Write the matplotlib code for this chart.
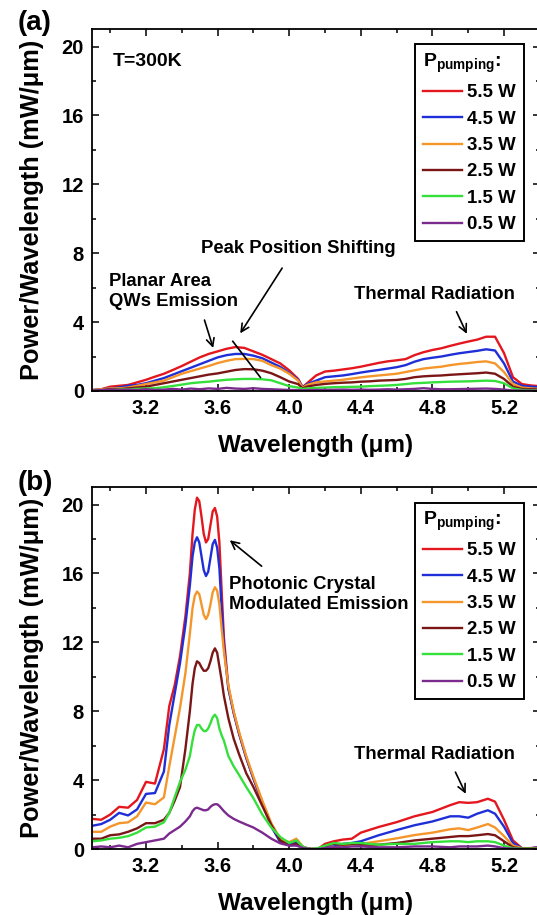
import matplotlib
matplotlib.use('Agg')
import matplotlib.pyplot as plt
from matplotlib.ticker import MultipleLocator

plt.rcParams['font.family'] = ['Liberation Sans', 'DejaVu Sans']
plt.rcParams['font.weight'] = 'bold'
plt.rcParams['mathtext.fontset'] = 'custom'
plt.rcParams['mathtext.rm'] = 'Liberation Sans:bold'
plt.rcParams['mathtext.bf'] = 'Liberation Sans:bold'
plt.rcParams['mathtext.it'] = 'Liberation Sans:bold'
plt.rcParams['mathtext.default'] = 'bf'

# ---- data ----
labels = ['5.5 W', '4.5 W', '3.5 W', '2.5 W', '1.5 W', '0.5 W']
colors = ['#e3171d', '#1f2fd8', '#f5962a', '#7a1616', '#36e03c', '#7b2a8e']

# panel (a): unpatterned area, T=300K
wl_a = [2.90, 2.95, 3.00, 3.05, 3.10, 3.15, 3.20, 3.25, 3.30, 3.35, 3.40, 3.45, 3.50,
        3.55, 3.60, 3.65, 3.70, 3.75, 3.80, 3.85, 3.90, 3.95, 4.00, 4.05, 4.075, 4.10,
        4.15, 4.20, 4.25, 4.30, 4.35, 4.40, 4.45, 4.50, 4.55, 4.60, 4.65, 4.70, 4.75,
        4.80, 4.85, 4.90, 4.95, 5.00, 5.05, 5.10, 5.15, 5.20, 5.25, 5.30, 5.35, 5.40]
red_a = [0.05, 0.1, 0.25, 0.3, 0.35, 0.5, 0.65, 0.83, 1.0, 1.22, 1.45, 1.7, 1.95,
         2.15, 2.3, 2.45, 2.55, 2.5, 2.3, 2.1, 1.85, 1.6, 1.2, 0.7, 0.22, 0.45,
         0.9, 1.13, 1.18, 1.25, 1.32, 1.41, 1.52, 1.63, 1.72, 1.78, 1.85, 2.08, 2.25,
         2.38, 2.48, 2.62, 2.75, 2.87, 2.98, 3.15, 3.15, 2.2, 0.8, 0.4, 0.32, 0.28]
blue_a = [0.05, 0.1, 0.15, 0.2, 0.3, 0.35, 0.45, 0.6, 0.75, 0.95, 1.15, 1.35, 1.55,
          1.75, 1.95, 2.08, 2.15, 2.15, 2.05, 1.9, 1.65, 1.4, 1.05, 0.65, 0.2, 0.4,
          0.6, 0.8, 0.85, 0.9, 0.98, 1.07, 1.15, 1.22, 1.3, 1.38, 1.5, 1.7, 1.85,
          1.93, 2.0, 2.1, 2.19, 2.26, 2.33, 2.42, 2.35, 1.6, 0.55, 0.3, 0.25, 0.22]
orange_a = [0.05, 0.1, 0.15, 0.15, 0.2, 0.3, 0.4, 0.5, 0.6, 0.8, 1.0, 1.15, 1.3,
            1.45, 1.62, 1.75, 1.85, 1.86, 1.85, 1.75, 1.5, 1.3, 1.0, 0.6, 0.18, 0.35,
            0.5, 0.55, 0.6, 0.65, 0.72, 0.79, 0.85, 0.9, 0.95, 1.0, 1.1, 1.2, 1.3,
            1.36, 1.41, 1.5, 1.57, 1.62, 1.68, 1.72, 1.6, 1.1, 0.4, 0.2, 0.15, 0.12]
brown_a = [0.03, 0.05, 0.1, 0.1, 0.15, 0.2, 0.25, 0.35, 0.45, 0.55, 0.65, 0.75, 0.85,
           0.95, 1.02, 1.12, 1.22, 1.27, 1.26, 1.18, 1.03, 0.8, 0.55, 0.4, 0.15, 0.25,
           0.35, 0.41, 0.45, 0.48, 0.5, 0.54, 0.56, 0.6, 0.62, 0.64, 0.7, 0.8, 0.85,
           0.88, 0.9, 0.94, 0.97, 1.0, 1.03, 1.07, 1.0, 0.7, 0.25, 0.12, 0.1, 0.08]
green_a = [0.02, 0.03, 0.05, 0.08, 0.1, 0.12, 0.15, 0.16, 0.22, 0.29, 0.37, 0.45, 0.5,
           0.54, 0.6, 0.65, 0.68, 0.7, 0.7, 0.68, 0.62, 0.45, 0.28, 0.2, 0.12, 0.15,
           0.18, 0.2, 0.22, 0.23, 0.24, 0.25, 0.28, 0.3, 0.32, 0.35, 0.4, 0.45, 0.47,
           0.5, 0.52, 0.54, 0.55, 0.56, 0.58, 0.6, 0.58, 0.45, 0.15, 0.06, 0.05, 0.04]
purple_a = [0.02, 0.05, 0.08, 0.05, 0.08, 0.05, 0.1, 0.06, 0.08, 0.12, 0.08, 0.14, 0.1,
            0.15, 0.12, 0.18, 0.14, 0.12, 0.16, 0.12, 0.1, 0.08, 0.06, 0.05, 0.04, 0.05,
            0.06, 0.06, 0.07, 0.08, 0.07, 0.08, 0.07, 0.08, 0.1, 0.08, 0.1, 0.12, 0.16,
            0.12, 0.1, 0.1, 0.11, 0.12, 0.13, 0.14, 0.12, 0.08, 0.03, 0.02, 0.02, 0.02]

# panel (b): photonic crystal area
wl_b = [2.90, 2.95, 3.00, 3.05, 3.10, 3.15, 3.20, 3.25, 3.30, 3.33, 3.36, 3.39, 3.42,
        3.445, 3.46, 3.4725, 3.485, 3.4975, 3.51, 3.5225, 3.535, 3.5475, 3.56, 3.5725,
        3.585, 3.5975, 3.61, 3.6225, 3.635, 3.66, 3.69, 3.72,
        3.76, 3.80, 3.85, 3.90, 3.95, 4.00, 4.04, 4.08, 4.12, 4.16, 4.20, 4.25, 4.30,
        4.35, 4.40, 4.50, 4.60, 4.70, 4.80, 4.90, 4.95, 5.00, 5.05, 5.11, 5.15, 5.20,
        5.25, 5.30, 5.35, 5.40]
red_b = [1.75, 1.70, 2.00, 2.45, 2.40, 2.85, 3.90, 3.80, 5.80, 8.30, 9.50, 11.2, 13.5,
         16.0, 18.3, 19.7, 20.4, 20.2, 19.3, 18.3, 17.8, 18.0, 18.8, 19.6,
         19.8, 19.3, 17.8, 15.0, 12.3, 9.4, 7.9, 6.7,
         5.3, 4.1, 2.7, 1.4, 0.5, 0.3, 0.45, 0.1, 0.0, 0.0, 0.3, 0.45, 0.55,
         0.6, 0.95, 1.28, 1.56, 1.9, 2.15, 2.55, 2.72, 2.68, 2.72, 2.92, 2.75, 1.7,
         0.5, 0.05, 0.05, 0.12]
blue_b = [1.35, 1.45, 1.70, 2.10, 1.95, 2.30, 3.20, 3.25, 4.50, 7.20, 9.00, 10.8, 13.0,
          15.3, 17.0, 17.8, 18.1, 17.8, 17.0, 16.2, 15.85, 16.1, 16.9, 17.7,
          17.95, 17.5, 16.3, 14.0, 11.8, 9.3, 7.9, 6.7,
          5.3, 4.1, 2.7, 1.3, 0.4, 0.25, 0.35, 0.1, 0.0, 0.0, 0.1, 0.15, 0.3,
          0.35, 0.45, 0.8, 1.1, 1.38, 1.6, 1.9, 1.9, 1.82, 2.05, 2.25, 2.05, 1.3,
          0.35, 0.05, 0.05, 0.1]
orange_b = [1.0, 1.0, 1.3, 1.5, 1.55, 1.9, 2.7, 2.6, 3.0, 4.8, 6.5, 8.2, 10.2,
            12.5, 14.0, 14.7, 14.95, 14.8, 14.2, 13.6, 13.35, 13.6, 14.2, 14.9,
            15.2, 15.0, 14.2, 12.8, 11.5, 9.5, 8.0, 6.8,
            5.4, 4.2, 2.8, 1.5, 0.6, 0.4, 0.6, 0.1, 0.0, 0.0, 0.05, 0.1, 0.15,
            0.25, 0.3, 0.45, 0.62, 0.81, 0.95, 1.15, 1.2, 1.1, 1.25, 1.45, 1.25, 0.75,
            0.2, 0.05, 0.05, 0.05]
brown_b = [0.6, 0.6, 0.8, 0.85, 1.0, 1.2, 1.5, 1.5, 1.7, 2.1, 2.8, 3.6, 5.8,
           8.0, 9.6, 10.5, 10.9, 10.8, 10.55, 10.35, 10.35, 10.5, 10.9, 11.4,
           11.65, 11.4, 10.6, 9.8, 8.9, 7.6, 6.4, 5.5,
           4.4, 3.6, 2.5, 1.4, 0.5, 0.2, 0.3, 0.05, 0.0, 0.0, 0.2, 0.3, 0.25,
           0.3, 0.25, 0.25, 0.35, 0.5, 0.6, 0.7, 0.75, 0.75, 0.8, 0.87, 0.8, 0.45,
           0.1, 0.02, 0.02, 0.02]
green_b = [0.45, 0.5, 0.6, 0.65, 0.75, 0.95, 1.25, 1.3, 1.55, 2.1, 3.0, 3.9, 4.6,
           5.4, 6.3, 6.9, 7.2, 7.2, 7.0, 6.85, 6.85, 7.0, 7.3, 7.65,
           7.8, 7.6, 7.0, 6.6, 6.3, 5.4, 4.8, 4.3,
           3.6, 2.95, 2.0, 1.25, 0.7, 0.35, 0.5, 0.1, 0.0, 0.05, 0.2, 0.35, 0.3,
           0.35, 0.35, 0.25, 0.3, 0.3, 0.4, 0.45, 0.45, 0.4, 0.45, 0.45, 0.4, 0.2,
           0.05, 0.02, 0.02, 0.02]
purple_b = [0.1, 0.15, 0.1, 0.2, 0.1, 0.3, 0.4, 0.5, 0.6, 0.9, 1.1, 1.3, 1.6,
            1.9, 2.2, 2.35, 2.4, 2.35, 2.3, 2.25, 2.25, 2.3, 2.45, 2.55,
            2.6, 2.6, 2.5, 2.35, 2.2, 1.95, 1.75, 1.6,
            1.42, 1.25, 0.95, 0.6, 0.33, 0.2, 0.2, 0.05, 0.0, 0.0, 0.05, 0.1, 0.1,
            0.15, 0.15, 0.1, 0.1, 0.15, 0.15, 0.1, 0.15, 0.15, 0.15, 0.2, 0.15, 0.05,
            0.02, 0.0, 0.0, 0.0]

series_a = [red_a, blue_a, orange_a, brown_a, green_a, purple_a]
series_b = [red_b, blue_b, orange_b, brown_b, green_b, purple_b]

fig = plt.figure(figsize=(5.37, 9.15), dpi=100)
ax1 = fig.add_axes([0.1719, 0.5727, 0.8333, 0.3953])
ax2 = fig.add_axes([0.1719, 0.0721, 0.8333, 0.3953])


def style(ax):
    ax.set_xlim(2.9, 5.4)
    ax.set_ylim(0, 21)
    ax.xaxis.set_major_locator(MultipleLocator(0.4))
    ax.xaxis.set_minor_locator(MultipleLocator(0.2))
    ax.yaxis.set_major_locator(MultipleLocator(4))
    ax.yaxis.set_minor_locator(MultipleLocator(2))
    ax.set_xticks([3.2, 3.6, 4.0, 4.4, 4.8, 5.2])
    ax.tick_params(which='both', direction='in', top=True, right=True, width=1.1)
    ax.tick_params(which='major', length=5, labelsize=14.5, pad=6)
    ax.tick_params(which='minor', length=3)
    for s in ax.spines.values():
        s.set_linewidth(1.3)
    ax.set_xlabel('Wavelength (μm)', fontsize=17.5, fontweight='bold', labelpad=11)
    ax.set_ylabel('Power/Wavelength (mW/μm)', fontsize=18.3, fontweight='bold', labelpad=13)


for ax, wl, series in [(ax1, wl_a, series_a), (ax2, wl_b, series_b)]:
    for ys, c, lab in zip(series, colors, labels):
        ax.plot(wl, ys, color=c, lw=1.7, label=lab, solid_joinstyle='round')
    style(ax)
    leg = ax.legend(loc='upper right', bbox_to_anchor=(0.964, 0.958), borderaxespad=0,
                    title=r'$P_{pumping}$:', fontsize=13.4, title_fontsize=14,
                    fancybox=False, edgecolor='black', framealpha=1,
                    handlelength=2.1, handletextpad=0.3, labelspacing=0.5,
                    borderpad=0.4)
    leg.get_frame().set_linewidth(1.4)
    leg._legend_box.align = 'left'

arr = dict(arrowstyle='->', color='black', lw=1.2, mutation_scale=14)
tfs = 13.3

# panel (a) annotations
ax1.text(3.014, 19.15, 'T=300K', fontsize=14, fontweight='bold', va='center')
ax1.text(4.05, 8.27, 'Peak Position Shifting', fontsize=tfs, fontweight='bold',
         ha='center', va='center')
ax1.annotate('', xy=(3.718, 3.21), xytext=(3.969, 7.27), arrowprops=arr)
ax1.text(2.991, 5.77, 'Planar Area\nQWs Emission', fontsize=tfs, fontweight='bold',
         ha='left', va='center', linespacing=1.25)
ax1.annotate('', xy=(3.580, 2.34), xytext=(3.522, 4.27), arrowprops=arr)
ax1.plot([3.685, 3.839], [2.88, 0.79], color='black', lw=1.2)
ax1.text(4.811, 5.62, 'Thermal Radiation', fontsize=tfs, fontweight='bold',
         ha='center', va='center')
ax1.annotate('', xy=(4.999, 3.17), xytext=(4.928, 4.75), arrowprops=arr)

# panel (b) annotations
ax2.text(3.666, 14.78, 'Photonic Crystal\nModulated Emission', fontsize=tfs,
         fontweight='bold', ha='left', va='center', linespacing=1.25)
ax2.annotate('', xy=(3.656, 18.03), xytext=(3.858, 16.32), arrowprops=arr)
ax2.text(4.811, 5.48, 'Thermal Radiation', fontsize=tfs, fontweight='bold',
         ha='center', va='center')
ax2.annotate('', xy=(4.993, 3.06), xytext=(4.922, 4.61), arrowprops=arr)

fig.text(0.032, 0.975, '(a)', fontsize=20, fontweight='bold', va='center')
fig.text(0.032, 0.472, '(b)', fontsize=20, fontweight='bold', va='center')

fig.savefig('out.png', dpi=100)
